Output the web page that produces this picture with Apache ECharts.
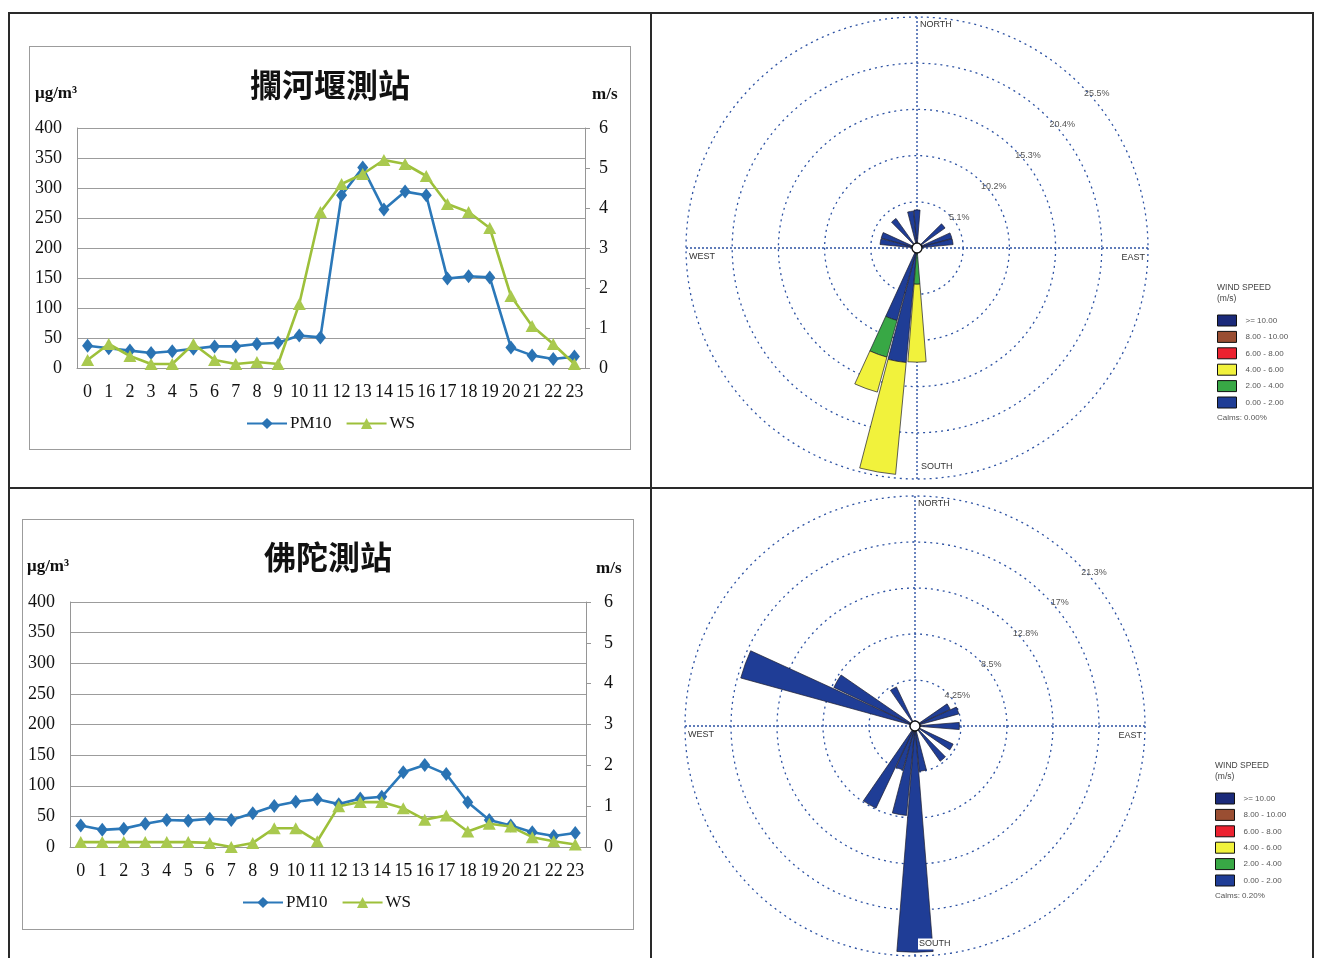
<!DOCTYPE html>
<html>
<head>
<meta charset="utf-8">
<title>PM10 / WS</title>
<script src="https://cdn.jsdelivr.net/npm/echarts@6/dist/echarts.min.js"></script>
<style>
  html, body { margin: 0; padding: 0; background: #fff; }
  #page { position: relative; width: 1317px; height: 958px; overflow: hidden; }
  #chart { position: absolute; left: 0; top: 0; width: 1317px; height: 958px; }
  .ln { position: absolute; background: #2a2a2a; pointer-events: none; }
  .frame { position: absolute; border: 1px solid #9c9c9c; box-sizing: border-box; pointer-events: none; }
</style>
</head>
<body>
<div id="page">
  <div id="chart"></div>
  <!-- table lines -->
  <div class="ln" style="left:8px;top:12px;width:1306px;height:2px"></div>
  <div class="ln" style="left:8px;top:12px;width:2px;height:946px"></div>
  <div class="ln" style="left:1312px;top:12px;width:2px;height:946px"></div>
  <div class="ln" style="left:650px;top:12px;width:2px;height:946px"></div>
  <div class="ln" style="left:8px;top:487px;width:1306px;height:2px"></div>
  <!-- excel chart frames -->
  <div class="frame" style="left:29px;top:46px;width:602px;height:404px"></div>
  <div class="frame" style="left:22px;top:519px;width:612px;height:411px"></div>
</div>
<script>
// hours
const hours = ['0','1','2','3','4','5','6','7','8','9','10','11',
               '12','13','14','15','16','17','18','19','20','21','22','23'];

// 攔河堰測站
const pm10Lanhe = [37, 33, 29, 25, 28, 32, 36, 36, 40, 42, 54, 51,
                   288, 334, 264, 294, 288, 149, 153, 151, 34, 21, 15, 19];
const wsLanhe = [0.2, 0.6, 0.3, 0.1, 0.1, 0.6, 0.2, 0.1, 0.15, 0.1, 1.6, 3.9,
                 4.6, 4.85, 5.2, 5.1, 4.8, 4.1, 3.9, 3.5, 1.8, 1.05, 0.6, 0.1];

// 佛陀測站
const pm10Fotuo = [35, 28, 30, 38, 44, 43, 46, 44, 55, 67, 74, 78,
                   70, 79, 82, 122, 134, 119, 73, 44, 35, 24, 18, 23];
const wsFotuo = [0.12, 0.12, 0.12, 0.12, 0.12, 0.12, 0.1, 0, 0.1, 0.46, 0.46, 0.14,
                 1.0, 1.1, 1.1, 0.95, 0.67, 0.77, 0.38, 0.57, 0.5, 0.24, 0.14, 0.06];

// wind rose directions (10 deg sectors)
const directions = ['0','10','20','30','40','50','60','70','80','90','100','110',
                    '120','130','140','150','160','170','180','190','200','210','220','230',
                    '240','250','260','270','280','290','300','310','320','330','340','350'];

// top rose (攔河堰), frequency % per speed class
const lanheSpd0to2 = [4.2, null, null, null, null, 3.8, null, 4.0, 4.0, null, null, null,
                      null, null, null, null, null, null, null, 12.7, 8.3, null, null, null,
                      null, null, null, null, 4.1, 4.1, null, null, 4.0, null, null, 4.1];
const lanheSpd2to4 = [null, null, null, null, null, null, null, null, null, null, null, null,
                      null, null, null, null, null, null, 4.0, null, 4.2, null, null, null,
                      null, null, null, null, null, null, null, null, null, null, null, null];
const lanheSpd4to6 = [null, null, null, null, null, null, null, null, null, null, null, null,
                      null, null, null, null, null, null, 8.6, 12.4, 4.0, null, null, null,
                      null, null, null, null, null, null, null, null, null, null, null, null];

// bottom rose (佛陀)
const fotuoSpd0to2 = [null, null, null, null, null, null, 3.6, 4.2, null, 4.1, null, null,
                      3.9, null, 4.0, null, null, 4.2, 20.9, 8.3, 4.2, 8.4, null, null,
                      null, null, null, null, null, 16.7, 8.3, null, null, 4.0, null, null];

const ringLabelsLanhe = ['5.1%', '10.2%', '15.3%', '20.4%', '25.5%'];
const ringLabelsFotuo = ['4.25%', '8.5%', '12.8%', '17%', '21.3%'];

const speedNames = ['>= 10.00', '8.00 - 10.00', '6.00 - 8.00', '4.00 - 6.00', '2.00 - 4.00', '0.00 - 2.00'];
const speedColors = ['#1b2a7a', '#9a4e32', '#ec2230', '#f1f23c', '#38a845', '#1f3d96'];

const serif = '"Liberation Serif", "Times New Roman", serif';
const sans = '"Liberation Sans", Arial, sans-serif';
const cjk = '"Noto Sans CJK TC", "Noto Sans CJK SC", sans-serif';
const pmBlue = '#2b78b9';
const wsGreen = '#9dc03a';
const ringBlue = '#2d52a3';

const chart = echarts.init(document.getElementById('chart'));

const grids = [
  { left: 77, top: 128, width: 508, height: 240, outerBoundsMode: 'none' },
  { left: 70, top: 602, width: 516, height: 245, outerBoundsMode: 'none' }
];

const xAxes = grids.map((g, i) => ({
  type: 'category',
  gridIndex: i,
  data: hours,
  boundaryGap: true,
  axisLine: { show: true, lineStyle: { color: '#969696' } },
  axisTick: { show: false },
  axisLabel: { interval: 0, fontFamily: serif, fontSize: 18, color: '#111', margin: 15 }
}));

const yAxes = [];
grids.forEach((g, i) => {
  yAxes.push({
    type: 'value', gridIndex: i, position: 'left',
    min: 0, max: 400, interval: 50,
    axisLine: { show: true, lineStyle: { color: '#969696' } },
    axisTick: { show: false },
    splitLine: { lineStyle: { color: '#9c9c9c', width: 1 } },
    axisLabel: { fontFamily: serif, fontSize: 18, color: '#111', margin: 15 }
  });
  yAxes.push({
    type: 'value', gridIndex: i, position: 'right',
    min: 0, max: 6, interval: 1,
    axisLine: { show: true, lineStyle: { color: '#969696' } },
    axisTick: { show: true, length: 5, lineStyle: { color: '#969696' } },
    splitLine: { show: false },
    axisLabel: { fontFamily: serif, fontSize: 18, color: '#111', margin: i === 0 ? 14 : 18 }
  });
});

function lineSeries(name, gridIdx, yIdx, data, isPm) {
  return {
    name: name,
    type: 'line',
    xAxisIndex: gridIdx,
    yAxisIndex: yIdx,
    data: data,
    symbol: isPm ? 'diamond' : 'triangle',
    symbolSize: isPm ? [11, 14] : [13, 12],
    lineStyle: { color: isPm ? pmBlue : wsGreen, width: 2.6 },
    itemStyle: { color: isPm ? '#2a73b3' : '#a9c94f' },
    z: isPm ? 3 : 4
  };
}

const series = [
  lineSeries('PM10', 0, 0, pm10Lanhe, true),
  lineSeries('WS', 0, 1, wsLanhe, false),
  lineSeries('PM10', 1, 2, pm10Fotuo, true),
  lineSeries('WS', 1, 3, wsFotuo, false)
];

// wind roses: 3 polar systems each (bars / rings+labels / compass lines)
const polar = [];
const angleAxis = [];
const radiusAxis = [];
const graphic = [];

function addRose(center, radius, max, step, ringLabels, classData, calms, legendPos) {
  const base = polar.length;
  for (let k = 0; k < 3; k++) polar.push({ center: center, radius: radius });

  angleAxis.push({ polarIndex: base, type: 'category', data: directions, startAngle: 95, clockwise: true, show: false });
  radiusAxis.push({ polarIndex: base, type: 'value', min: 0, max: max, show: false });

  angleAxis.push({ polarIndex: base + 1, type: 'value', min: 0, max: 360, startAngle: 42, show: false });
  radiusAxis.push({
    polarIndex: base + 1, type: 'value', min: 0, max: max, interval: step,
    axisLine: { show: false }, axisTick: { show: false },
    axisLabel: {
      fontFamily: sans, fontSize: 9, color: '#555', margin: 0,
      align: 'center', verticalAlign: 'middle', padding: [0, 0, 0, 16],
      formatter: (v, i) => (i === 0 ? '' : ringLabels[i - 1])
    },
    splitLine: { show: true, lineStyle: { color: ringBlue, type: [2, 4], width: 1.3 } }
  });

  angleAxis.push({
    polarIndex: base + 2, type: 'value', min: 0, max: 360, interval: 90, startAngle: 90,
    axisLine: { show: false }, axisTick: { show: false }, axisLabel: { show: false },
    splitLine: { show: true, lineStyle: { color: ringBlue, type: [2, 2], width: 1.4 } }
  });
  radiusAxis.push({ polarIndex: base + 2, type: 'value', min: 0, max: 1, show: false });

  speedNames.slice().reverse().forEach((nm, j) => {
    const idx = speedNames.length - 1 - j;
    series.push({
      name: nm,
      type: 'bar',
      coordinateSystem: 'polar',
      polarIndex: base,
      stack: 'rose' + base,
      barCategoryGap: '8%',
      data: classData[nm] || [],
      itemStyle: { color: speedColors[idx], borderColor: '#1c1c2c', borderWidth: 0.7 },
      z: 3
    });
  });

  const cx = center[0], cy = center[1];
  const small = { fontFamily: sans, fontSize: 9, fill: '#333' };
  graphic.push(
    { type: 'text', x: cx + 3, y: cy - radius + 8, style: Object.assign({ text: 'NORTH', align: 'left', verticalAlign: 'middle' }, small) },
    { type: 'text', x: cx + 3, y: cy + radius - 12, z: 50, style: Object.assign({ text: 'SOUTH', align: 'left', verticalAlign: 'middle', backgroundColor: '#fff', padding: [1, 1] }, small) },
    { type: 'text', x: cx - radius + 3, y: cy + 9, style: Object.assign({ text: 'WEST', align: 'left', verticalAlign: 'middle' }, small) },
    { type: 'text', x: cx + radius - 3, y: cy + 10, style: Object.assign({ text: 'EAST', align: 'right', verticalAlign: 'middle' }, small) },
    { type: 'circle', z: 60, shape: { cx: cx, cy: cy, r: 5 }, style: { fill: '#fff', stroke: '#111', lineWidth: 1.4 } },
    { type: 'text', x: legendPos[0], y: legendPos[1] - 27, style: { text: 'WIND SPEED', fontFamily: sans, fontSize: 8.5, fill: '#444', verticalAlign: 'middle' } },
    { type: 'text', x: legendPos[0], y: legendPos[1] - 16, style: { text: '(m/s)', fontFamily: sans, fontSize: 8.5, fill: '#444', verticalAlign: 'middle' } },
    { type: 'text', x: legendPos[0], y: legendPos[1] + 103, style: { text: 'Calms: ' + calms, fontFamily: sans, fontSize: 8, fill: '#555', verticalAlign: 'middle' } }
  );
}

addRose([917, 248], 231, 25.5, 5.1, ringLabelsLanhe, {
  '0.00 - 2.00': lanheSpd0to2,
  '2.00 - 4.00': lanheSpd2to4,
  '4.00 - 6.00': lanheSpd4to6
}, '0.00%', [1217, 315]);

addRose([915, 726], 230, 21.25, 4.25, ringLabelsFotuo, {
  '0.00 - 2.00': fotuoSpd0to2
}, '0.20%', [1215, 793]);

// line chart texts
graphic.push(
  { type: 'text', x: 330, y: 85, style: { text: '攔河堰測站', fontFamily: cjk, fontWeight: 'bold', fontSize: 32, fill: '#111', align: 'center', verticalAlign: 'middle' } },
  { type: 'text', x: 35, y: 94, style: { text: 'μg/m³', fontFamily: serif, fontWeight: 'bold', fontSize: 17, fill: '#111', verticalAlign: 'middle' } },
  { type: 'text', x: 592, y: 95, style: { text: 'm/s', fontFamily: serif, fontWeight: 'bold', fontSize: 17, fill: '#111', verticalAlign: 'middle' } },
  { type: 'text', x: 328, y: 557, style: { text: '佛陀測站', fontFamily: cjk, fontWeight: 'bold', fontSize: 32, fill: '#111', align: 'center', verticalAlign: 'middle' } },
  { type: 'text', x: 27, y: 567, style: { text: 'μg/m³', fontFamily: serif, fontWeight: 'bold', fontSize: 17, fill: '#111', verticalAlign: 'middle' } },
  { type: 'text', x: 596, y: 569, style: { text: 'm/s', fontFamily: serif, fontWeight: 'bold', fontSize: 17, fill: '#111', verticalAlign: 'middle' } }
);

const lineLegend = (left, top) => ({
  data: ['PM10', 'WS'], left: left, top: top, orient: 'horizontal', padding: 0,
  itemWidth: 40, itemHeight: 14, itemGap: 14,
  textStyle: { fontFamily: serif, fontSize: 17, color: '#111', padding: [0, 0, 0, -2] }
});
const roseLegend = (left, top) => ({
  data: speedNames, left: left, top: top, orient: 'vertical', padding: 0,
  icon: 'rect', itemWidth: 19, itemHeight: 11, itemGap: 4.4,
  itemStyle: { borderColor: '#111', borderWidth: 1 },
  textStyle: { fontFamily: sans, fontSize: 8, color: '#555', padding: [0, 0, 0, 4] }
});

chart.setOption({
  backgroundColor: '#fff',
  animation: false,
  grid: grids,
  xAxis: xAxes,
  yAxis: yAxes,
  polar: polar,
  angleAxis: angleAxis,
  radiusAxis: radiusAxis,
  legend: [lineLegend(246, 415), lineLegend(242, 894), roseLegend(1217, 314.5), roseLegend(1215, 792.5)],
  graphic: graphic,
  series: series
});
</script>
</body>
</html>
